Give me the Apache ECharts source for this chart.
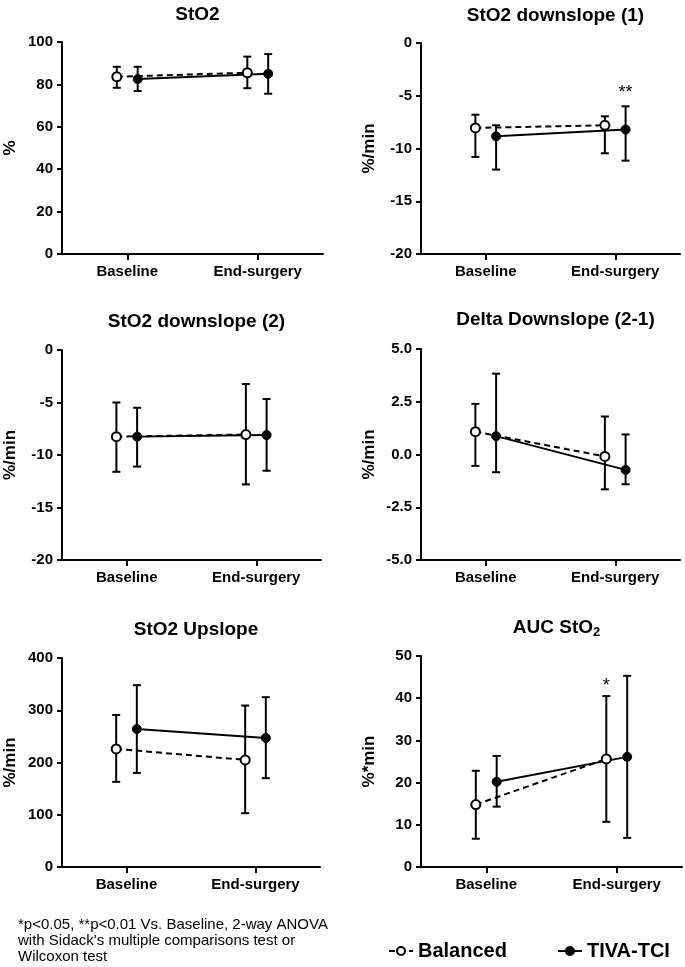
<html>
<head>
<meta charset="utf-8">
<script src="https://cdn.jsdelivr.net/npm/echarts@6/dist/echarts.min.js"></script>
<style>
  html, body { margin: 0; padding: 0; background: #fff; }
  #container { width: 685px; height: 967px; }
</style>
</head>
<body>
<div id="container"></div>
<script>
// categories on the x axis
const categories = ['Baseline', 'End-surgery'];
const groups = ['Balanced', 'TIVA-TCI'];

// panel titles and y axis names
const titles = ['StO2', 'StO2 downslope (1)', 'StO2 downslope (2)', 'Delta Downslope (2-1)', 'StO2 Upslope', 'AUC StO{sub|2}'];
const yNames = ['%', '%/min', '%/min', '%/min', '%/min', '%*min'];

// y axis ranges [min, max, interval]
const yRanges = [[0, 100, 20], [-20, 0, 5], [-20, 0, 5], [-5, 5, 2.5], [0, 400, 100], [0, 50, 10]];

// Balanced: mean, lower, upper  (Baseline, End-surgery)
const balMean = [[83.6, 85.5], [-8.05, -7.8], [-8.25, -8.05], [1.08, -0.09], [226, 205], [14.8, 25.6]];
const balLow  = [[78.4, 78.2], [-10.8, -10.45], [-11.6, -12.8], [-0.54, -1.65], [163, 103], [6.7, 10.7]];
const balHigh = [[88.3, 93.1], [-6.8, -6.95], [-5.0, -3.24], [2.4, 1.8], [291, 309], [22.8, 40.5]];

// TIVA-TCI: mean, lower, upper
const tivaMean = [[82.5, 85.0], [-8.85, -8.2], [-8.25, -8.1], [0.87, -0.73], [264, 247], [20.2, 26.1]];
const tivaLow  = [[76.9, 75.6], [-12.0, -11.15], [-11.1, -11.5], [-0.84, -1.41], [180, 170], [14.3, 6.9]];
const tivaHigh = [[88.3, 94.3], [-7.8, -6.0], [-5.5, -4.67], [3.83, 0.95], [348, 325], [26.3, 45.3]];

// significance marks: panel, group index, category index, y value, text
const starPanels = [1, 5];
const starGroups = [1, 0];
const starCats = [1, 1];
const starY = [-4.7, 43];
const starText = ['**', '*'];

const FONT = 'Liberation Sans, Arial, Helvetica, sans-serif';
const OFFSET = 0.16;

const grids = [
  { left: 62, top: 42, width: 261, height: 212 },
  { left: 421, top: 43, width: 259, height: 211 },
  { left: 62, top: 350, width: 259, height: 210 },
  { left: 421, top: 349, width: 259, height: 211 },
  { left: 62, top: 658, width: 258, height: 209 },
  { left: 421, top: 656, width: 261, height: 211 }
];
const titleTops = [0, 1, 307, 305, 615, 611];

let chart = echarts.init(document.getElementById('container'));

function catX(c, g) {
  return c * 2 + 1 + (g === 0 ? -OFFSET : OFFSET);
}

function errorBarItem(params, api) {
  const x = api.value(0);
  const top = api.coord([x, api.value(2)]);
  const bot = api.coord([x, api.value(1)]);
  const cap = 4;
  const style = { stroke: '#000', lineWidth: 2 };
  return {
    type: 'group',
    children: [
      { type: 'line', shape: { x1: top[0], y1: top[1], x2: bot[0], y2: bot[1] }, style },
      { type: 'line', shape: { x1: top[0] - cap, y1: top[1], x2: top[0] + cap, y2: top[1] }, style },
      { type: 'line', shape: { x1: bot[0] - cap, y1: bot[1], x2: bot[0] + cap, y2: bot[1] }, style }
    ]
  };
}

function starItem(params, api) {
  const p = api.coord([api.value(0), api.value(1)]);
  return {
    type: 'text',
    style: {
      x: p[0], y: p[1], text: starText[api.value(2)],
      fill: '#000', font: '18px ' + FONT, align: 'center', verticalAlign: 'middle'
    }
  };
}

let option = {
  animation: false,
  backgroundColor: '#fff',
  title: [],
  grid: grids,
  xAxis: [],
  yAxis: [],
  series: [],
  legend: {
    data: groups,
    left: 383,
    top: 936,
    itemWidth: 24,
    itemHeight: 10,
    itemGap: 50,
    textStyle: { fontFamily: FONT, fontWeight: 'bold', fontSize: 20, color: '#000' }
  },
  graphic: [{
    type: 'text',
    left: 18,
    top: 917,
    style: {
      text: "*p<0.05, **p<0.01 Vs. Baseline, 2-way ANOVA\nwith Sidack's multiple comparisons test or\nWilcoxon test",
      font: '15px ' + FONT,
      lineHeight: 16,
      fill: '#000'
    }
  }]
};

titles.forEach((t, i) => {
  const g = grids[i];
  option.title.push({
    text: t,
    left: g.left + g.width / 2,
    top: titleTops[i],
    textAlign: 'center',
    textStyle: {
      fontFamily: FONT, fontWeight: 'bold', fontSize: 19, color: '#000',
      rich: { sub: { fontFamily: FONT, fontWeight: 'bold', fontSize: 13, color: '#000', padding: [10, 0, 0, 0] } }
    }
  });

  option.xAxis.push({
    type: 'value',
    gridIndex: i,
    min: 0,
    max: 4,
    splitLine: { show: false },
    axisLine: { onZero: false, lineStyle: { color: '#000', width: 2 } },
    axisTick: { customValues: [1, 3], length: 6, lineStyle: { color: '#000', width: 2 } },
    axisLabel: {
      customValues: [1, 3],
      margin: 10,
      formatter: v => categories[(v - 1) / 2],
      color: '#000', fontFamily: FONT, fontWeight: 'bold', fontSize: 15
    }
  });

  const r = yRanges[i];
  option.yAxis.push({
    type: 'value',
    gridIndex: i,
    min: r[0],
    max: r[1],
    interval: r[2],
    name: yNames[i],
    nameLocation: 'middle',
    nameGap: 43,
    nameTextStyle: { fontFamily: FONT, fontWeight: 'bold', fontSize: 17, color: '#000' },
    splitLine: { show: false },
    axisLine: { show: true, onZero: false, lineStyle: { color: '#000', width: 2 } },
    axisTick: { show: true, length: 5, lineStyle: { color: '#000', width: 2 } },
    axisLabel: {
      margin: 9,
      formatter: v => (r[2] % 1 !== 0 ? v.toFixed(1) : String(v)),
      color: '#000', fontFamily: FONT, fontWeight: 'bold', fontSize: 15
    }
  });

  const sets = [
    [balMean[i], balLow[i], balHigh[i]],
    [tivaMean[i], tivaLow[i], tivaHigh[i]]
  ];
  sets.forEach((s, gi) => {
    option.series.push({
      type: 'custom',
      name: groups[gi] + ' SD',
      xAxisIndex: i,
      yAxisIndex: i,
      z: 1,
      renderItem: errorBarItem,
      data: categories.map((c, ci) => [catX(ci, gi), s[1][ci], s[2][ci]])
    });
  });
  sets.forEach((s, gi) => {
    option.series.push({
      type: 'line',
      name: groups[gi],
      xAxisIndex: i,
      yAxisIndex: i,
      z: 3,
      symbol: 'circle',
      symbolSize: 9,
      itemStyle: gi === 0
        ? { color: '#fff', borderColor: '#000', borderWidth: 2 }
        : { color: '#000', borderColor: '#000', borderWidth: 1 },
      lineStyle: { color: '#000', width: 2, type: gi === 0 ? [6, 4] : 'solid' },
      data: categories.map((c, ci) => [catX(ci, gi), s[0][ci]])
    });
  });
});

// significance marks
starPanels.forEach((p, k) => {
  option.series.push({
    type: 'custom',
    name: 'sig' + k,
    xAxisIndex: p,
    yAxisIndex: p,
    z: 4,
    renderItem: starItem,
    data: [[catX(starCats[k], starGroups[k]), starY[k], k]]
  });
});

chart.setOption(option);
</script>
</body>
</html>
